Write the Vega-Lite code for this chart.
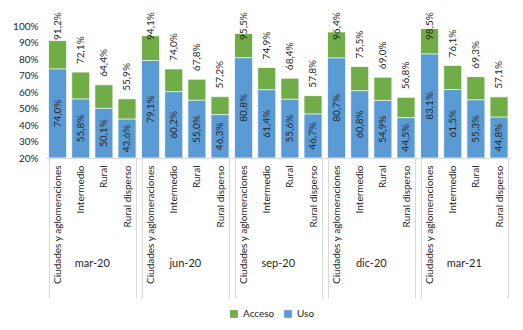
{
  "$schema": "https://vega.github.io/schema/vega-lite/v6.json",
  "background": "white",
  "padding": {"left": 12, "top": 12, "right": 5, "bottom": 0},
  "config": {
    "font": "Lato",
    "locale": {"number": {"decimal": ",", "thousands": ".", "grouping": [3], "currency": ["", " €"]}},
    "view": {"stroke": null},
    "axis": {"labelFont": "Lato", "labelColor": "#262626", "labelFontSize": 10}
  },
  "data": {"values": [
    {"periodo": "mar-20", "categoria": "Ciudades y aglomeraciones", "uso": 0.740, "total": 0.912},
    {"periodo": "mar-20", "categoria": "Intermedio", "uso": 0.558, "total": 0.721},
    {"periodo": "mar-20", "categoria": "Rural", "uso": 0.501, "total": 0.644},
    {"periodo": "mar-20", "categoria": "Rural disperso", "uso": 0.436, "total": 0.559},
    {"periodo": "jun-20", "categoria": "Ciudades y aglomeraciones", "uso": 0.791, "total": 0.941},
    {"periodo": "jun-20", "categoria": "Intermedio", "uso": 0.602, "total": 0.740},
    {"periodo": "jun-20", "categoria": "Rural", "uso": 0.550, "total": 0.678},
    {"periodo": "jun-20", "categoria": "Rural disperso", "uso": 0.463, "total": 0.572},
    {"periodo": "sep-20", "categoria": "Ciudades y aglomeraciones", "uso": 0.808, "total": 0.955},
    {"periodo": "sep-20", "categoria": "Intermedio", "uso": 0.614, "total": 0.749},
    {"periodo": "sep-20", "categoria": "Rural", "uso": 0.556, "total": 0.684},
    {"periodo": "sep-20", "categoria": "Rural disperso", "uso": 0.467, "total": 0.578},
    {"periodo": "dic-20", "categoria": "Ciudades y aglomeraciones", "uso": 0.807, "total": 0.964},
    {"periodo": "dic-20", "categoria": "Intermedio", "uso": 0.608, "total": 0.755},
    {"periodo": "dic-20", "categoria": "Rural", "uso": 0.549, "total": 0.690},
    {"periodo": "dic-20", "categoria": "Rural disperso", "uso": 0.445, "total": 0.568},
    {"periodo": "mar-21", "categoria": "Ciudades y aglomeraciones", "uso": 0.831, "total": 0.985},
    {"periodo": "mar-21", "categoria": "Intermedio", "uso": 0.615, "total": 0.761},
    {"periodo": "mar-21", "categoria": "Rural", "uso": 0.553, "total": 0.693},
    {"periodo": "mar-21", "categoria": "Rural disperso", "uso": 0.448, "total": 0.571}
  ]},
  "facet": {
    "column": {
      "field": "periodo",
      "type": "nominal",
      "sort": ["mar-20", "jun-20", "sep-20", "dic-20", "mar-21"],
      "title": null,
      "header": {"labelOrient": "bottom", "labelFont": "Lato", "labelFontSize": 11, "labelColor": "#262626", "labelPadding": -41}
    }
  },
  "spacing": 0,
  "spec": {
    "width": 92.6,
    "height": 132,
    "transform": [
      {"calculate": "datum.uso / 2 + 0.1", "as": "mid"},
      {"calculate": "min(datum.total, 0.867)", "as": "lab"}
    ],
    "encoding": {
      "x": {
        "field": "categoria",
        "type": "nominal",
        "sort": ["Ciudades y aglomeraciones", "Intermedio", "Rural", "Rural disperso"],
        "scale": {"paddingInner": 0.22, "paddingOuter": 0.11},
        "axis": {
          "title": null,
          "labelAngle": -90,
          "labelPadding": -133,
          "domainColor": "#D9D9D9",
          "tickBand": "extent",
          "tickSize": 140,
          "tickColor": "#D9D9D9",
          "tickOpacity": {"condition": {"test": "datum.extra || datum.value == 'Rural disperso'", "value": 1}, "value": 0}
        }
      }
    },
    "layer": [
      {
        "mark": {"type": "bar", "clip": true, "stroke": "white", "strokeWidth": 0.8},
        "encoding": {
          "y": {"field": "total", "type": "quantitative", "scale": {"domain": [0.2, 1], "zero": false, "nice": false},
            "axis": {"title": null, "format": ".0%", "values": [0.2,0.3,0.4,0.5,0.6,0.7,0.8,0.9,1.0], "labelOverlap": false, "grid": false, "ticks": false, "domain": false, "labelPadding": 8}},
          "y2": {"datum": 0.2},
          "color": {"datum": "Acceso", "type": "nominal", "scale": {"domain": ["Acceso", "Uso"], "range": ["#70AD47", "#5B9BD5"]},
            "legend": {"title": null, "orient": "none", "legendX": 183, "legendY": 283, "direction": "horizontal", "symbolType": "square", "symbolSize": 60, "labelFontSize": 10, "labelFont": "Lato", "labelColor": "#262626", "symbolStrokeWidth": 0, "columnPadding": 8}}
        }
      },
      {
        "mark": {"type": "bar", "clip": true, "stroke": "white", "strokeWidth": 0.8},
        "encoding": {
          "y": {"field": "uso", "type": "quantitative",
            "axis": {"title": null, "format": ".0%", "values": [0.2,0.3,0.4,0.5,0.6,0.7,0.8,0.9,1.0], "labelOverlap": false, "grid": false, "ticks": false, "domain": false, "labelPadding": 8}},
          "y2": {"datum": 0.2},
          "color": {"datum": "Uso", "type": "nominal"}
        }
      },
      {
        "mark": {"type": "text", "angle": 270, "align": "left", "baseline": "middle", "dx": 8, "fontSize": 10, "color": "#262626"},
        "encoding": {
          "y": {"field": "lab", "type": "quantitative",
            "axis": {"title": null, "format": ".0%", "values": [0.2,0.3,0.4,0.5,0.6,0.7,0.8,0.9,1.0], "labelOverlap": false, "grid": false, "ticks": false, "domain": false, "labelPadding": 8}},
          "text": {"field": "total", "type": "quantitative", "format": ".1%"}
        }
      },
      {
        "mark": {"type": "text", "angle": 270, "align": "center", "baseline": "middle", "fontSize": 10, "color": "#262626"},
        "encoding": {
          "y": {"field": "mid", "type": "quantitative",
            "axis": {"title": null, "format": ".0%", "values": [0.2,0.3,0.4,0.5,0.6,0.7,0.8,0.9,1.0], "labelOverlap": false, "grid": false, "ticks": false, "domain": false, "labelPadding": 8}},
          "text": {"field": "uso", "type": "quantitative", "format": ".1%"}
        }
      }
    ]
  }
}
